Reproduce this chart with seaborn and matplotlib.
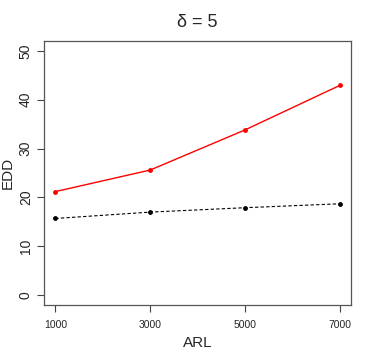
import numpy as np
import pandas as pd
import seaborn as sns
import matplotlib.pyplot as plt

# data
arl = [1000, 3000, 5000, 7000]
edd_red = [21.2, 25.6, 33.8, 42.9]
edd_black = [15.7, 17.0, 17.9, 18.7]

df = pd.DataFrame({
    "ARL": arl * 2,
    "EDD": edd_red + edd_black,
    "grp": ["red"] * 4 + ["black"] * 4,
})

sns.set_style("ticks")
plt.rcParams["font.family"] = ["Liberation Sans", "DejaVu Sans"]

fig = plt.figure(figsize=(3.74, 3.57), dpi=100)
ax = fig.add_axes([44 / 374, 52 / 357, 307 / 374, 264 / 357])

sns.lineplot(data=df[df.grp == "red"], x="ARL", y="EDD", color="red",
             marker="o", markersize=3.5, markeredgewidth=0, linewidth=1, ax=ax)
sns.lineplot(data=df[df.grp == "black"], x="ARL", y="EDD", color="black",
             marker="o", markersize=3.5, markeredgewidth=0, linewidth=0.8,
             linestyle=(0, (3, 2)), ax=ax)

ax.set_xlim(760, 7240)
ax.set_ylim(-2, 52)
ax.set_xticks(arl)
ax.set_yticks([0, 10, 20, 30, 40, 50])
ax.tick_params(axis="x", labelsize=7.5, length=5, color="#444444", pad=6)
ax.tick_params(axis="y", labelsize=10, length=5, color="#444444", pad=3)
for lab in ax.get_yticklabels():
    lab.set_rotation(90)
    lab.set_va("center")
for s in ax.spines.values():
    s.set_color("#555555")
    s.set_linewidth(0.9)

ax.set_xlabel("ARL", fontsize=11, labelpad=4)
ax.set_ylabel("EDD", fontsize=11, labelpad=3)
ax.set_title("δ = 5", fontsize=13, pad=10)

fig.savefig("out.png", dpi=100)
